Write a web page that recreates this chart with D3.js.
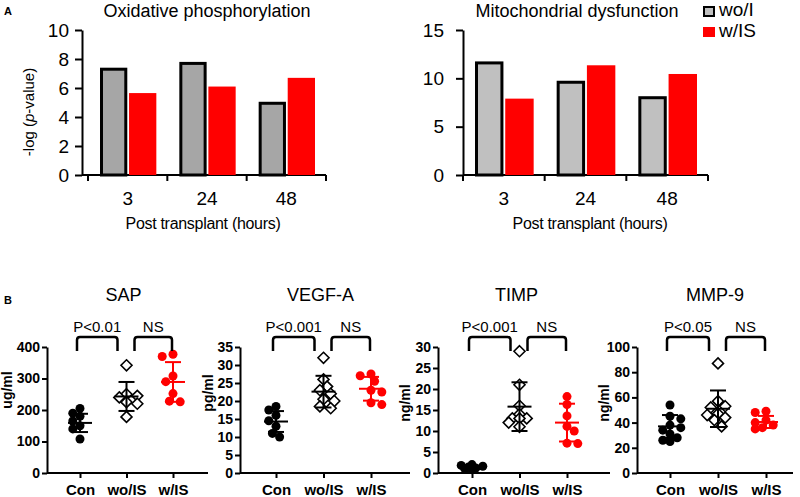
<!DOCTYPE html>
<html lang="en">
<head>
<meta charset="UTF-8">
<script src="https://cdnjs.cloudflare.com/ajax/libs/d3/7.8.5/d3.min.js"></script>
<title>Panels A and B</title>
<style>
  body { margin: 0; background: #fff; }
  svg { font-family: Arial, "Liberation Sans", sans-serif; }
</style>
</head>
<body>
<svg id="chart" width="800" height="497"></svg>
<script>
// ---- panel A: pathway enrichment ----
var timepoints = ["3", "24", "48"];
var seriesNames = ["wo/I", "w/IS"];
var oxphosWo = [7.4, 7.8, 5.05];
var oxphosW = [5.65, 6.1, 6.7];
var mitoWo = [11.75, 9.75, 8.15];
var mitoW = [7.9, 11.35, 10.45];

// ---- panel B: serum markers ----
var groups = ["Con", "wo/IS", "w/IS"];

var sapCon = [205, 190, 180, 165, 150, 140, 108];
var sapWo = [342, 250, 245, 240, 225, 220, 178];
var sapW = [377, 370, 308, 290, 252, 228, 226];
var sapMean = [159, 243, 289];
var sapSd = [29, 46, 63];

var vegfCon = [18.5, 17.5, 16, 14.5, 13, 11, 10];
var vegfWo = [32, 26, 24, 23, 22, 20.5, 20, 18.5, 18];
var vegfW = [27.5, 27, 25.5, 23, 22.5, 19.5, 19];
var vegfMean = [14.3, 22.6, 23.4];
var vegfSd = [2.9, 4.4, 3.3];

var timpCon = [2.0, 1.8, 1.6, 1.4, 1.2, 1.0, 0.8];
var timpWo = [29, 21, 16, 14, 13, 13, 13, 12, 11];
var timpW = [18.2, 16.3, 13.6, 11.1, 10, 7.1, 7];
var timpMean = [1.3, 15.8, 12];
var timpSd = [0.4, 5.8, 4.5];

var mmpCon = [54, 45, 43, 38, 36, 34, 31, 28, 26, 25];
var mmpWo = [87, 57, 53, 52, 47, 46, 44, 42, 37];
var mmpW = [49, 48, 42, 40, 38, 36, 35];
var mmpMean = [37, 51, 40.5];
var mmpSd = [9, 14.5, 4.8];

var svg = d3.select("#chart");
var red = "#ff0000";

svg.append("text").attr("x", 4).attr("y", 15).attr("font-size", 11)
  .attr("font-weight", "bold").text("A");
svg.append("text").attr("x", 4).attr("y", 304).attr("font-size", 11)
  .attr("font-weight", "bold").text("B");

function styleAxis(g, size, bold) {
  g.selectAll("path, line").attr("stroke", "#000").attr("stroke-width", 2);
  g.selectAll("text").attr("font-size", size).attr("fill", "#000")
    .attr("font-family", "Arial, 'Liberation Sans', sans-serif")
    .attr("font-weight", bold ? "bold" : "normal");
}

function barPanel(p) {
  var y = d3.scaleLinear().domain([0, p.yMax]).range([175, 30]);
  var x0 = d3.scaleBand().domain(timepoints).range([p.bandStart, p.bandEnd]);
  var x1 = d3.scaleBand().domain(seriesNames)
    .range([12, x0.bandwidth() - 11]).paddingInner(0.06);

  var yAxis = svg.append("g").attr("transform", "translate(" + p.axisX + ",0)")
    .call(d3.axisLeft(y).tickValues(d3.range(0, p.yMax + 1, p.yStep))
      .tickSize(7).tickPadding(p.tickPad).tickSizeOuter(0));
  styleAxis(yAxis, 19, false);

  var xAxis = svg.append("g").attr("transform", "translate(0,175)");
  xAxis.append("line").attr("x1", p.axisX).attr("x2", p.bandEnd)
    .attr("stroke", "#000").attr("stroke-width", 2);
  // band boundary ticks
  var bounds = timepoints.map(function(t) { return x0(t); }).concat([p.bandEnd]);
  xAxis.selectAll(".bt").data(bounds).enter().append("line")
    .attr("x1", function(d) { return d; }).attr("x2", function(d) { return d; })
    .attr("y1", 0).attr("y2", 6).attr("stroke", "#000").attr("stroke-width", 2);
  xAxis.selectAll(".lbl").data(timepoints).enter().append("text")
    .attr("x", function(d) { return x0(d) + x0.bandwidth() / 2; })
    .attr("y", 30).attr("text-anchor", "middle").attr("font-size", 19)
    .attr("fill", "#000").text(function(d) { return d; });

  var rows = timepoints.map(function(t, i) {
    return [{ s: "wo/I", t: t, v: p.wo[i] }, { s: "w/IS", t: t, v: p.w[i] }];
  });
  svg.append("g").selectAll("g").data(rows).enter().append("g")
    .attr("transform", function(d) { return "translate(" + x0(d[0].t) + ",0)"; })
    .selectAll("rect").data(function(d) { return d; }).enter().append("rect")
    .attr("x", function(d) { return x1(d.s) + (d.s === "wo/I" ? 1.5 : 0); })
    .attr("width", function(d) { return x1.bandwidth() - (d.s === "wo/I" ? 3 : 0); })
    .attr("y", function(d) { return y(d.v) + (d.s === "wo/I" ? 1.5 : 0); })
    .attr("height", function(d) { return 175 - y(d.v) - (d.s === "wo/I" ? 1.5 : 0); })
    .attr("fill", function(d) { return d.s === "wo/I" ? p.gray : red; })
    .attr("stroke", function(d) { return d.s === "wo/I" ? "#000" : "none"; })
    .attr("stroke-width", 3);

  svg.append("text").attr("x", p.titleX).attr("y", 17).attr("text-anchor", "middle")
    .attr("font-size", 18).text(p.title);
  svg.append("text").attr("x", p.xLabelX).attr("y", 229).attr("text-anchor", "middle")
    .attr("font-size", 16).attr("letter-spacing", -0.3).text("Post transplant (hours)");
}

barPanel({ wo: oxphosWo, w: oxphosW, yMax: 10, yStep: 2, axisX: 82, bandStart: 88,
  bandEnd: 326, tickPad: 6, gray: "#a6a6a6", title: "Oxidative phosphorylation",
  titleX: 207, xLabelX: 203 });
barPanel({ wo: mitoWo, w: mitoW, yMax: 15, yStep: 5, axisX: 463, bandStart: 463,
  bandEnd: 708, tickPad: 12, gray: "#c0c0c0", title: "Mitochondrial dysfunction",
  titleX: 577, xLabelX: 590 });

// y label of first bar panel
var yl = svg.append("text").attr("transform", "translate(34,112) rotate(-90)")
  .attr("text-anchor", "middle").attr("font-size", 15);
yl.append("tspan").text("-log (");
yl.append("tspan").attr("font-style", "italic").text("p");
yl.append("tspan").text("-value)");

// legend
var legend = svg.append("g").attr("transform", "translate(704,6)");
legend.selectAll("rect").data(seriesNames).enter().append("rect")
  .attr("x", function(d, i) { return i ? -1 : 0; })
  .attr("y", function(d, i) { return i ? 21 : 1; })
  .attr("width", function(d, i) { return i ? 12 : 10; })
  .attr("height", function(d, i) { return i ? 10 : 9; })
  .attr("fill", function(d, i) { return i ? red : "#c0c0c0"; })
  .attr("stroke", function(d, i) { return i ? "none" : "#000"; })
  .attr("stroke-width", 2);
legend.selectAll("text").data(seriesNames).enter().append("text")
  .attr("x", 15).attr("y", function(d, i) { return i ? 31 : 10; })
  .attr("font-size", 19).text(function(d) { return d; });

// ---- scatter panels ----
function dodge(values, y, r, maxOff) {
  // place highest first; slide sideways until no overlap, within +-maxOff
  var placed = [];
  var order = values.map(function(v, i) { return i; })
    .sort(function(a, b) { return values[b] - values[a]; });
  var offs = [];
  order.forEach(function(i, n) {
    var py = y(values[i]);
    var best = 0, bestD = -1;
    for (var k = 0; k < 30; k++) {
      var off = (k % 2 ? 1 : -1) * Math.ceil(k / 2) * r * 0.8;
      if (n % 2) off = -off;
      if (Math.abs(off) > maxOff) continue;
      var dmin = d3.min(placed, function(q) { return Math.hypot(q[0] - off, q[1] - py); });
      if (dmin === undefined) dmin = Infinity;
      if (dmin >= r * 1.7) { best = off; break; }
      if (dmin > bestD) { bestD = dmin; best = off; }
    }
    placed.push([best, py]);
    offs[i] = best;
  });
  return offs;
}

function scatterPanel(p) {
  var y = d3.scaleLinear().domain([0, p.yMax]).range([473, 347]);
  var x = d3.scalePoint().domain(groups).range([p.first, p.last]);

  var yAxis = svg.append("g").attr("transform", "translate(" + p.axisX + ",0)")
    .call(d3.axisLeft(y).tickValues(d3.range(0, p.yMax + 1, p.yStep))
      .tickSize(5).tickPadding(2).tickSizeOuter(0));
  styleAxis(yAxis, 14, true);

  var xAxis = svg.append("g").attr("transform", "translate(0,473)")
    .call(d3.axisBottom(x).tickSize(5).tickPadding(6).tickSizeOuter(0));
  xAxis.select(".domain").remove();
  xAxis.append("line").attr("x1", p.axisX).attr("x2", p.axisEnd)
    .attr("stroke", "#000").attr("stroke-width", 2);
  styleAxis(xAxis, 15, true);

  svg.append("text").attr("x", (p.first + p.last) / 2 - 3).attr("y", 301)
    .attr("text-anchor", "middle").attr("font-size", 18).text(p.title);
  svg.append("text").attr("transform", "translate(" + p.unitX + "," + p.unitY + ") rotate(-90)")
    .attr("text-anchor", "middle").attr("font-size", 14).attr("font-weight", "bold")
    .text(p.unit);

  var r = 4.5;
  var sets = [p.con, p.wo, p.w];
  sets.forEach(function(vals, gi) {
    var gx = x(groups[gi]);
    var offs = dodge(vals, y, r, 14);
    var g = svg.append("g");
    if (gi === 1) {
      g.selectAll("path").data(vals).enter().append("path")
        .attr("d", "M0,-5.5L5.5,0L0,5.5L-5.5,0Z")
        .attr("transform", function(d, i) { return "translate(" + (gx + offs[i]) + "," + y(d) + ")"; })
        .attr("fill", "#fff").attr("stroke", "#000").attr("stroke-width", 1.6);
    } else {
      g.selectAll("circle").data(vals).enter().append("circle")
        .attr("cx", function(d, i) { return gx + offs[i]; })
        .attr("cy", function(d) { return y(d); }).attr("r", r)
        .attr("fill", gi === 0 ? "#000" : red);
    }
    // mean and SD
    var c = gi === 2 ? red : "#000";
    var m = p.mean[gi], s = p.sd[gi];
    var eb = svg.append("g").attr("stroke", c).attr("stroke-width", 2);
    eb.append("line").attr("x1", gx - 12).attr("x2", gx + 12)
      .attr("y1", y(m)).attr("y2", y(m));
    eb.append("line").attr("x1", gx).attr("x2", gx)
      .attr("y1", y(m - s)).attr("y2", y(m + s));
    [m - s, m + s].forEach(function(v) {
      eb.append("line").attr("x1", gx - 8).attr("x2", gx + 8)
        .attr("y1", y(v)).attr("y2", y(v));
    });
  });

  // significance brackets
  var brackets = [
    { a: x("Con") - 3, b: x("wo/IS") - 9, label: p.pLabel },
    { a: x("wo/IS") + 8, b: x("w/IS") - 1, label: "NS" }
  ];
  var top = 337, bot = 351, rc = 3;
  brackets.forEach(function(br) {
    var path = d3.path();
    path.moveTo(br.a, bot);
    path.lineTo(br.a, top + rc);
    path.quadraticCurveTo(br.a, top, br.a + rc, top);
    path.lineTo(br.b - rc, top);
    path.quadraticCurveTo(br.b, top, br.b, top + rc);
    path.lineTo(br.b, bot);
    svg.append("path").attr("d", path.toString()).attr("fill", "none")
      .attr("stroke", "#000").attr("stroke-width", 2.5);
    svg.append("text").attr("x", (br.a + br.b) / 2).attr("y", 332)
      .attr("text-anchor", "middle").attr("font-size", 15).text(br.label);
  });
}

scatterPanel({ title: "SAP", unit: "ug/ml", con: sapCon, wo: sapWo, w: sapW,
  mean: sapMean, sd: sapSd, yMax: 400, yStep: 100, axisX: 47, axisEnd: 208,
  first: 80, last: 173, unitX: 12, unitY: 390, pLabel: "P<0.01" });
scatterPanel({ title: "VEGF-A", unit: "pg/ml", con: vegfCon, wo: vegfWo, w: vegfW,
  mean: vegfMean, sd: vegfSd, yMax: 35, yStep: 5, axisX: 240, axisEnd: 410,
  first: 276, last: 371, unitX: 213, unitY: 393, pLabel: "P<0.001" });
scatterPanel({ title: "TIMP", unit: "ng/ml", con: timpCon, wo: timpWo, w: timpW,
  mean: timpMean, sd: timpSd, yMax: 30, yStep: 5, axisX: 438, axisEnd: 610,
  first: 472, last: 567, unitX: 410, unitY: 403, pLabel: "P<0.001" });
scatterPanel({ title: "MMP-9", unit: "ng/ml", con: mmpCon, wo: mmpWo, w: mmpW,
  mean: mmpMean, sd: mmpSd, yMax: 100, yStep: 20, axisX: 637, axisEnd: 793,
  first: 670, last: 766, unitX: 609, unitY: 403, pLabel: "P<0.05" });
</script>
</body>
</html>
